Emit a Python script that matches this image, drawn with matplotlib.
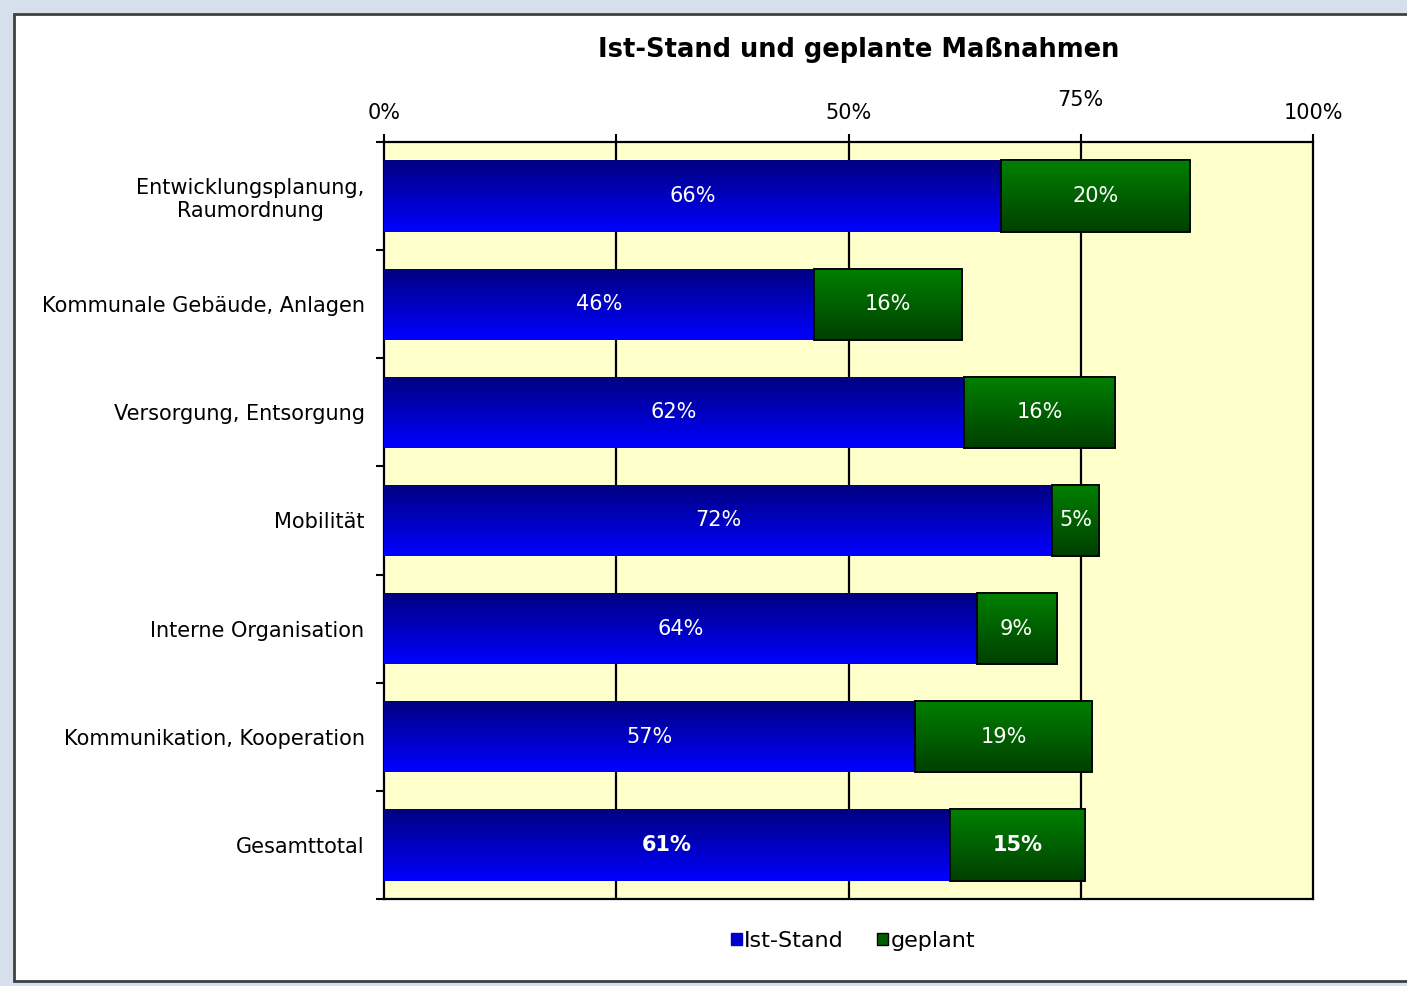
import numpy as np
import matplotlib
matplotlib.use("Agg")
import matplotlib.pyplot as plt
from matplotlib.patches import Rectangle, Patch
from matplotlib.transforms import ScaledTranslation

# data (percent)
categories = ["Entwicklungsplanung,\nRaumordnung", "Kommunale Gebäude, Anlagen",
              "Versorgung, Entsorgung", "Mobilität", "Interne Organisation",
              "Kommunikation, Kooperation", "Gesamttotal"]
ist_stand = [66.4, 46.3, 62.4, 71.9, 63.8, 57.2, 60.9]
geplant = [20.4, 15.9, 16.3, 5.1, 8.6, 19.0, 14.6]
tick_vals = [0, 25, 50, 75, 100]
tick_labels = ["0%", "", "50%", "75%", "100%"]

plt.rcParams['font.family'] = ['DejaVu Sans']

fig = plt.figure(figsize=(14.07, 9.86), dpi=100, facecolor="#d6e0ec")
# white chart panel with dark border
fig.patches.append(Rectangle((14 / 1407, 5 / 986), 1.0, 967 / 986, transform=fig.transFigure,
                             facecolor="white", edgecolor="#404040", linewidth=2, zorder=-5))

ax = fig.add_axes([384 / 1407, 1 - 899 / 986, 929 / 1407, 757 / 986])
ax.set_facecolor("#ffffcc")

y = np.arange(len(categories))
h = 0.66
b1 = ax.barh(y, ist_stand, height=h, color="#0000ff", linewidth=0, zorder=3)
b2 = ax.barh(y, geplant, left=ist_stand, height=h, color="#006000",
             edgecolor="black", linewidth=1.2, zorder=3)

# vertical gradients inside the bars
grad = np.linspace(0, 1, 64).reshape(-1, 1)
blue_cmap = matplotlib.colors.LinearSegmentedColormap.from_list("b", ["#000080", "#0000ff"])
green_cmap = matplotlib.colors.LinearSegmentedColormap.from_list("g", ["#008000", "#004000"])
for bars, cmap in ((b1, blue_cmap), (b2, green_cmap)):
    for p in bars:
        x0, y0 = p.get_x(), p.get_y()
        w, hh = p.get_width(), p.get_height()
        im = ax.imshow(grad, cmap=cmap, aspect="auto", extent=(x0, x0 + w, y0 + hh, y0),
                       origin="upper", zorder=3.5)
        im.set_clip_path(p)
    for p in bars:
        p.set_facecolor("none")
for p in b2:
    ax.add_patch(Rectangle((p.get_x(), p.get_y()), p.get_width(), p.get_height(),
                           fill=False, edgecolor="black", linewidth=1.2, zorder=4))

# value labels
for i in range(len(categories)):
    weight = "bold" if i == len(categories) - 1 else "normal"
    ax.text(ist_stand[i] / 2, y[i], f"{round(ist_stand[i])}%", color="white",
            ha="center", va="center", fontsize=15, fontweight=weight, zorder=5)
    ax.text(ist_stand[i] + geplant[i] / 2, y[i], f"{round(geplant[i])}%", color="white",
            ha="center", va="center", fontsize=15, fontweight=weight, zorder=5)

ax.set_xlim(0, 100)
ax.set_ylim(len(categories) - 0.5, -0.5)
ax.xaxis.tick_top()
ax.set_xticks(tick_vals)
ax.set_xticklabels(tick_labels, fontsize=15)
ax.tick_params(axis="x", direction="out", length=6, width=1.5, pad=8)
for lbl in ax.get_xticklabels():
    if lbl.get_text() == "75%":
        lbl.set_transform(lbl.get_transform() + ScaledTranslation(0, 9 / 72, fig.dpi_scale_trans))

ax.set_yticks(y)
ax.set_yticklabels(categories, fontsize=15, multialignment="center")
ax.set_yticks(np.arange(len(categories) + 1) - 0.5, minor=True)
ax.tick_params(axis="y", which="major", length=0, pad=14)
ax.tick_params(axis="y", which="minor", direction="out", length=6, width=1.5)

for v in tick_vals[1:-1]:
    ax.axvline(v, color="black", linewidth=1.6, zorder=2)
for s in ax.spines.values():
    s.set_linewidth(1.6)
    s.set_color("black")

fig.text(859 / 1407, 1 - 50 / 986, "Ist-Stand und geplante Maßnahmen", ha="center", va="center",
         fontsize=18.5, fontweight="bold")

fig.legend(handles=[Patch(facecolor="#0000cc", edgecolor="#0000cc", label="Ist-Stand"),
                    Patch(facecolor="#006000", edgecolor="black", label="geplant")],
           loc="center", bbox_to_anchor=(853 / 1407, 1 - 941 / 986), ncol=2, frameon=False,
           fontsize=16, handlelength=0.5, handleheight=0.5, handletextpad=0.1, columnspacing=1.5)

fig.savefig("out.png", dpi=100, facecolor=fig.get_facecolor())
